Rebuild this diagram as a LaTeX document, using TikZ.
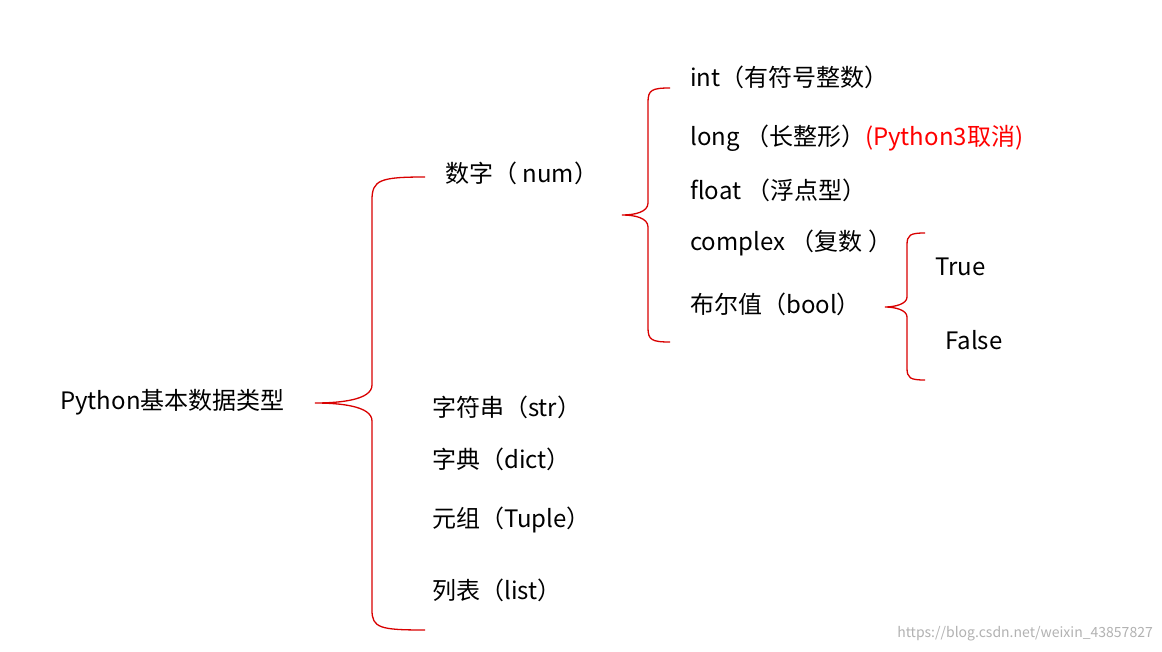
\documentclass[tikz,border=0pt]{standalone}
\usepackage{fontspec}
\setmainfont{Noto Sans CJK SC}
\begin{document}
\begin{tikzpicture}[x=1pt,y=-1pt,
  lbl/.style={anchor=west,inner sep=0pt,font=\fontsize{24}{28}\selectfont},
  br/.style={draw=red!85!black,line width=1.3pt}]
\useasboundingbox[fill=white] (0,0) rectangle (1162,652);
% nodes
\node[lbl] (root) at (60,402) {Python基本数据类型};
\node[lbl] (num) at (445,173) {数字（ num）};
\node[lbl] (str) at (432,407) {字符串（str）};
\node[lbl] (dict) at (432,459) {字典（dict）};
\node[lbl] (tup) at (432,520) {元组（Tuple）};
\node[lbl] (lst) at (432,590) {列表（list）};
\node[lbl] (int) at (690,77) {int（有符号整数）};
\node[lbl] (long) at (690,138) {long （长整形）\textcolor{red}{(Python3取消)}};
\node[lbl] (flt) at (690,190) {float （浮点型）};
\node[lbl] (cpx) at (690,243) {complex （复数 ）};
\node[lbl] (bool) at (690,304) {布尔值（bool）};
\node[lbl] (tr) at (935,267) {True};
\node[lbl] (fa) at (945,340) {False};
\node[anchor=east,inner sep=0pt,text=gray!60,font=\fontsize{14}{16}\selectfont] (wm) at (1153,634) {https://blog.csdn.net/weixin\_43857827};
% braces
\coordinate (t1) at (425,177); \coordinate (b1) at (425,630); \coordinate (p1) at (315,403);
\draw[br] (t1) .. controls (380,177) and (372,180) .. (372,200) -- (372,385)
  .. controls (372,400) and (340,403) .. (p1)
  .. controls (340,403) and (372,406) .. (372,421) -- (372,610)
  .. controls (372,628) and (380,630) .. (b1);
\coordinate (t2) at (670,88); \coordinate (b2) at (670,342); \coordinate (p2) at (622,215);
\draw[br] (t2) .. controls (652,88) and (648,90) .. (648,102) -- (648,203)
  .. controls (648,212) and (635,215) .. (p2)
  .. controls (635,215) and (648,218) .. (648,227) -- (648,328)
  .. controls (648,340) and (652,342) .. (b2);
\coordinate (t3) at (925,233); \coordinate (b3) at (925,380); \coordinate (p3) at (885,307);
\draw[br] (t3) .. controls (910,233) and (907,235) .. (907,245) -- (907,297)
  .. controls (907,304) and (895,307) .. (p3)
  .. controls (895,307) and (907,310) .. (907,317) -- (907,368)
  .. controls (907,378) and (910,380) .. (b3);
\end{tikzpicture}
\end{document}
